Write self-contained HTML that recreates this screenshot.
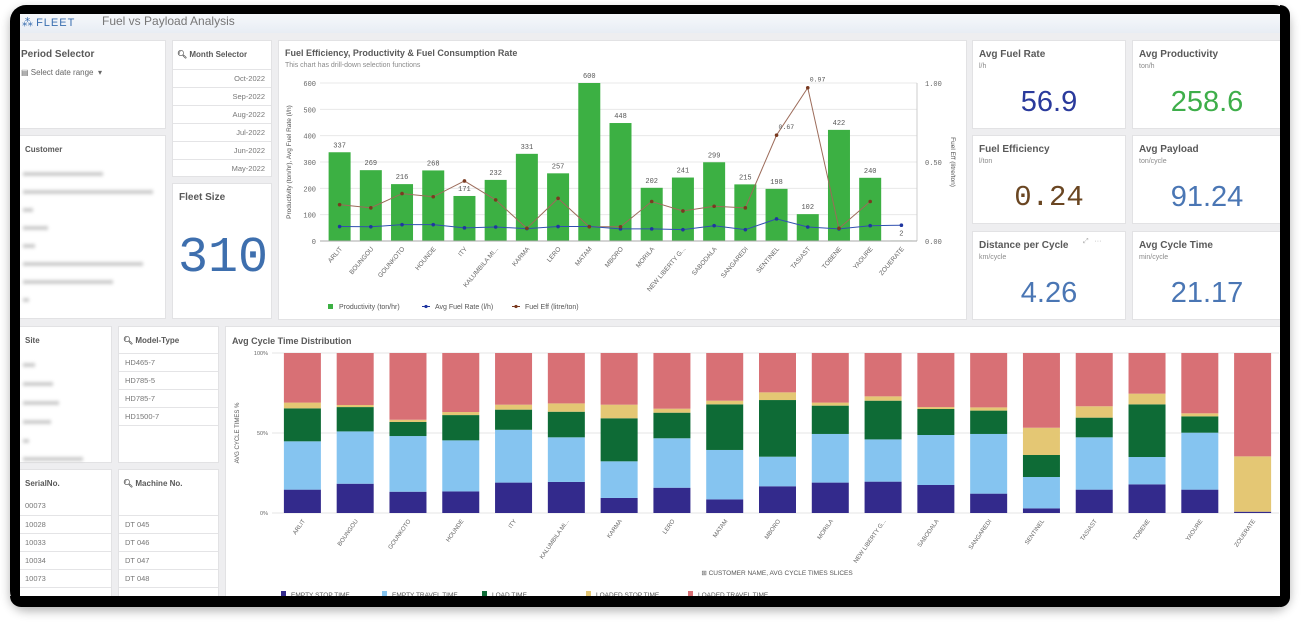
<!DOCTYPE html>
<html><head><meta charset="utf-8"><style>
*{margin:0;padding:0;box-sizing:border-box}
body{width:1307px;height:628px;background:#fff;font-family:"Liberation Sans",sans-serif;position:relative;overflow:hidden}
#bezel{position:absolute;left:10px;top:5px;width:1280px;height:602px;background:#000;border-radius:16px;box-shadow:0 4px 10px rgba(0,0,0,.3)}
#screen{position:absolute;left:20px;top:14px;width:1260px;height:582px;background:#eeeef0;overflow:hidden}
.p{position:absolute;background:#fff;border:1px solid #e2e2e4}
.t{position:absolute;font-weight:bold;font-size:10px;color:#595959}
.s{position:absolute;font-size:7px;color:#8a8a8a}
.row{position:absolute;left:0;right:0;height:18px;border-top:1px solid #e4e4e6;font-size:7.5px;color:#777;line-height:18px;padding:0 6px}
.kv{position:absolute;left:0;right:0;text-align:center;font-size:29px;font-family:"Liberation Mono",monospace}
.kv2{position:absolute;left:0;right:0;text-align:center;font-size:29px}
.blur{position:absolute;height:4px;background:#ccc;filter:blur(1.5px)}
</style></head><body>
<div id="bezel"></div>
<div id="screen">
 <div style="position:absolute;left:0;top:0;width:1260px;height:19px;background:linear-gradient(#f6f8fb,#e8edf4)">
  <div style="position:absolute;left:2px;top:2px;font-size:11px;color:#3a6fb0">⁂ <span style="letter-spacing:1px">FLEET</span></div>
  <div style="position:absolute;left:82px;top:0px;font-size:12px;color:#777">Fuel vs Payload Analysis</div>
 </div>
 <!-- left filters -->
 <div class="p" style="left:-2px;top:26px;width:148px;height:89px">
  <div class="t" style="left:2px;top:8px">Period Selector</div>
  <div class="s" style="left:2px;top:27px;font-size:8px;color:#666">▤ Select date range &nbsp;▾</div>
 </div>
 <div class="p" style="left:-2px;top:121px;width:148px;height:184px">
  <div class="t" style="left:6px;top:9px;font-size:8px">Customer</div>
  <div class="blur" style="left:4px;top:36px;width:80px"></div><div class="blur" style="left:4px;top:54px;width:130px"></div>
  <div class="blur" style="left:4px;top:72px;width:10px"></div><div class="blur" style="left:4px;top:90px;width:25px"></div>
  <div class="blur" style="left:4px;top:108px;width:12px"></div><div class="blur" style="left:4px;top:126px;width:120px"></div>
  <div class="blur" style="left:4px;top:144px;width:90px"></div><div class="blur" style="left:4px;top:162px;width:6px"></div>
 </div>
 <div class="p" style="left:152px;top:26px;width:100px;height:137px">
  <div class="t" style="left:4px;top:9px;font-size:8px">🔍︎ Month Selector</div>
  <div class="row" style="top:28px;text-align:right">Oct-2022</div><div class="row" style="top:46px;text-align:right">Sep-2022</div>
  <div class="row" style="top:64px;text-align:right">Aug-2022</div><div class="row" style="top:82px;text-align:right">Jul-2022</div>
  <div class="row" style="top:100px;text-align:right">Jun-2022</div><div class="row" style="top:118px;text-align:right">May-2022</div>
 </div>
 <div class="p" style="left:152px;top:169px;width:100px;height:136px">
  <div class="t" style="left:6px;top:8px">Fleet Size</div>
  <div style="position:absolute;left:0;top:46px;width:100px;text-align:center;font-size:50px;color:#3e6fae;font-family:'Liberation Mono',monospace">310</div>
 </div>
 <div class="p" style="left:-2px;top:312px;width:94px;height:137px">
  <div class="t" style="left:6px;top:9px;font-size:8px">Site</div>
  <div class="blur" style="left:4px;top:36px;width:12px"></div><div class="blur" style="left:4px;top:55px;width:30px"></div>
  <div class="blur" style="left:4px;top:74px;width:36px"></div><div class="blur" style="left:4px;top:93px;width:28px"></div>
  <div class="blur" style="left:4px;top:112px;width:6px"></div><div class="blur" style="left:4px;top:130px;width:60px"></div>
 </div>
 <div class="p" style="left:98px;top:312px;width:101px;height:137px">
  <div class="t" style="left:4px;top:9px;font-size:8px">🔍︎ Model-Type</div>
  <div class="row" style="top:26px">HD465-7</div><div class="row" style="top:44px">HD785-5</div>
  <div class="row" style="top:62px">HD785-7</div><div class="row" style="top:80px">HD1500-7</div><div class="row" style="top:98px"></div>
 </div>
 <div class="p" style="left:-2px;top:455px;width:94px;height:130px">
  <div class="t" style="left:6px;top:9px;font-size:8px">SerialNo.</div>
  <div class="row" style="top:27px;border:0">00073</div><div class="row" style="top:45px">10028</div>
  <div class="row" style="top:63px">10033</div><div class="row" style="top:81px">10034</div><div class="row" style="top:99px">10073</div><div class="row" style="top:117px"></div>
 </div>
 <div class="p" style="left:98px;top:455px;width:101px;height:130px">
  <div class="t" style="left:4px;top:9px;font-size:8px">🔍︎ Machine No.</div>
  <div class="row" style="top:45px">DT 045</div><div class="row" style="top:63px">DT 046</div>
  <div class="row" style="top:81px">DT 047</div><div class="row" style="top:99px">DT 048</div><div class="row" style="top:117px"></div>
 </div>
 <!-- top chart -->
 <div class="p" style="left:258px;top:26px;width:689px;height:280px">
  <div class="t" style="left:6px;top:7px;font-size:9px">Fuel Efficiency, Productivity &amp; Fuel Consumption Rate</div>
  <div class="s" style="left:6px;top:21px">This chart has drill-down selection functions</div>
 </div>
 <!-- KPIs -->
 <div class="p" style="left:952px;top:26px;width:154px;height:89px"><div class="t" style="left:6px;top:8px">Avg Fuel Rate</div><div class="s" style="left:6px;top:22px">l/h</div><div class="kv2" style="top:45px;color:#2a3a9c">56.9</div></div>
 <div class="p" style="left:1112px;top:26px;width:150px;height:89px"><div class="t" style="left:6px;top:8px">Avg Productivity</div><div class="s" style="left:6px;top:22px">ton/h</div><div class="kv2" style="top:45px;color:#3eae4a">258.6</div></div>
 <div class="p" style="left:952px;top:121px;width:154px;height:89px"><div class="t" style="left:6px;top:8px">Fuel Efficiency</div><div class="s" style="left:6px;top:22px">l/ton</div><div class="kv" style="top:45px;color:#6a4622">0.24</div></div>
 <div class="p" style="left:1112px;top:121px;width:150px;height:89px"><div class="t" style="left:6px;top:8px">Avg Payload</div><div class="s" style="left:6px;top:22px">ton/cycle</div><div class="kv2" style="top:45px;color:#4a76b4">91.24</div></div>
 <div class="p" style="left:952px;top:217px;width:154px;height:89px"><div class="t" style="left:6px;top:8px">Distance per Cycle</div><div class="s" style="left:6px;top:22px">km/cycle</div><div class="s" style="left:110px;top:6px;color:#aaa">⤢ &nbsp; ···</div><div class="kv2" style="top:45px;color:#4a76b4">4.26</div></div>
 <div class="p" style="left:1112px;top:217px;width:150px;height:89px"><div class="t" style="left:6px;top:8px">Avg Cycle Time</div><div class="s" style="left:6px;top:22px">min/cycle</div><div class="kv2" style="top:45px;color:#4a76b4">21.17</div></div>
 <!-- bottom chart panel -->
 <div class="p" style="left:205px;top:312px;width:1057px;height:280px">
  <div class="t" style="left:6px;top:9px;font-size:9px">Avg Cycle Time Distribution</div>
 </div>
</div>
<svg id="chart" width="1307" height="628" style="position:absolute;left:0;top:0;font-family:'Liberation Sans',sans-serif"></svg>
<script>
const cats=["ARLIT","BOUNGOU","GOUNKOTO","HOUNDE","ITY","KALUMBILA MI...","KARMA","LERO","MATAM","MBORO","MORILA","NEW LIBERTY G...","SABODALA","SANGAREDI","SENTINEL","TASIAST","TOBENE","YAOURE","ZOUERATE"];
const productivity=[337,269,216,268,171,232,331,257,600,448,202,241,299,215,198,102,422,240,2];
const fuelRate=[55,54,62,62,50,53,47,55,55,46,46,43,58,43,84,53,46,58,60];
const fuelEff=[0.23,0.21,0.30,0.28,0.38,0.26,0.08,0.27,0.09,0.09,0.25,0.19,0.22,0.21,0.67,0.97,0.08,0.25,null];
const leftTicks=[0,100,200,300,400,500,600];
const rightTicks=["0.00","0.50","1.00"];
const emptyStop=[0.146,0.183,0.133,0.135,0.19,0.194,0.094,0.158,0.085,0.167,0.19,0.196,0.175,0.121,0.029,0.146,0.179,0.146,0.008];
const emptyTravel=[0.302,0.327,0.348,0.319,0.33,0.279,0.229,0.309,0.309,0.185,0.304,0.264,0.3125,0.373,0.196,0.327,0.171,0.356,0.0];
const loadTime=[0.206,0.152,0.088,0.158,0.126,0.16,0.269,0.16,0.285,0.354,0.177,0.242,0.1625,0.146,0.1375,0.123,0.329,0.102,0.0];
const loadedStop=[0.036,0.013,0.014,0.019,0.031,0.052,0.085,0.025,0.023,0.048,0.019,0.027,0.012,0.02,0.1705,0.071,0.067,0.019,0.346];
const pctTicks=["0%","50%","100%"];
const svg=document.getElementById('chart');const NS='http://www.w3.org/2000/svg';
function mk(t,a,p){const e=document.createElementNS(NS,t);for(const k in a)e.setAttribute(k,a[k]);(p||svg).appendChild(e);return e}
// top chart axes
const X0=324,X1=917,Y0=241,Y1=83,band=(X1-X0)/cats.length;
const xc=i=>X0+band*(i+0.5);const yl=v=>Y0-(v/600)*(Y0-Y1);const yr=v=>Y0-v*(Y0-Y1);
const g1=mk('g',{});
leftTicks.forEach(v=>{const l=mk('line',{x1:X0-4,x2:X1,y1:yl(v),y2:yl(v),stroke:'#e8e8e8'},g1);
 const t=mk('text',{x:X0-8,y:yl(v)+3,'font-size':7,fill:'#666','text-anchor':'end','font-family':'Liberation Mono'},g1);t.textContent=v;});
rightTicks.forEach(v=>{const t=mk('text',{x:X1+8,y:yr(+v)+3,'font-size':7,fill:'#666','font-family':'Liberation Mono'},g1);t.textContent=v;});
mk('line',{x1:X1,x2:X1,y1:Y1,y2:Y0,stroke:'#ccc'},g1);
const ya=mk('text',{transform:`translate(291,162) rotate(-90)`,'font-size':6.5,fill:'#555','text-anchor':'middle'},g1);ya.textContent='Productivity (ton/hr), Avg Fuel Rate (l/h)';
const yb=mk('text',{transform:`translate(951,162) rotate(90)`,'font-size':6.5,fill:'#555','text-anchor':'middle'},g1);yb.textContent='Fuel Eff (litre/ton)';
productivity.forEach((v,i)=>{const r=mk('rect',{x:xc(i)-11,y:yl(v),width:22,height:Y0-yl(v),fill:'#3cb043'},g1);
 const t=mk('text',{x:xc(i),y:yl(v)-5,'font-size':7,fill:'#555','text-anchor':'middle','font-family':'Liberation Mono'},g1);t.textContent=v;});
mk('line',{x1:X0-4,x2:X1,y1:Y0,y2:Y0,stroke:'#aaa'},g1);
let pe='';fuelEff.forEach((v,i)=>{if(v!=null)pe+=(pe?'L':'M')+xc(i)+','+yr(v)});
const l2=mk('path',{d:pe,fill:'none',stroke:'#9c6b5a','stroke-width':1},g1);
let pf='';fuelRate.forEach((v,i)=>{pf+=(i?'L':'M')+xc(i)+','+yl(v)});
const l1=mk('path',{d:pf,fill:'none',stroke:'#3050b0','stroke-width':1},g1);
fuelRate.forEach((v,i)=>{const c=mk('circle',{cx:xc(i),cy:yl(v),r:1.8,fill:'#2036a0'},g1);});
fuelEff.forEach((v,i)=>{if(v==null)return;const c=mk('circle',{cx:xc(i),cy:yr(v),r:1.8,fill:'#7a3a20'},g1);
 if(v>0.5){const t=mk('text',{x:xc(i)+2,y:yr(v)-6,'font-size':6.5,fill:'#555','font-family':'Liberation Mono'},g1);t.textContent=v.toFixed(2);}});
cats.forEach((c,i)=>{const t=mk('text',{transform:`translate(${xc(i)+3},${Y0+8}) rotate(-50)`,'font-size':6.5,fill:'#666','text-anchor':'end'},g1);t.textContent=c;});
[['Productivity (ton/hr)','#3cb043',328,'rect'],['Avg Fuel Rate (l/h)','#2036a0',424,'dot'],['Fuel Eff (litre/ton)','#7a3a20',514,'dot']].forEach(([n,c,x,k])=>{
 const g=mk('g',{},g1);
 if(k=='rect')mk('rect',{x:x,y:304,width:5,height:5,fill:c},g);else{mk('line',{x1:x-2,x2:x+6,y1:306.5,y2:306.5,stroke:c},g);mk('circle',{cx:x+2,cy:306.5,r:1.6,fill:c},g);}
 const t=mk('text',{x:x+11,y:309,'font-size':7,fill:'#555'},g);t.textContent=n;});
// bottom chart
const B0=276,B1=1279,BY0=513,BY1=353,bb=(B1-B0)/cats.length;
const bx=i=>B0+bb*(i+0.5);const by=v=>BY0-v*(BY0-BY1);
const g2=mk('g',{});
pctTicks.forEach((p,i)=>{const v=i*0.5;const l=mk('line',{x1:B0-4,x2:B1,y1:by(v),y2:by(v),stroke:'#e4e4e4'},g2);
 const t=mk('text',{x:B0-8,y:by(v)+2,'font-size':5.5,fill:'#666','text-anchor':'end'},g2);t.textContent=p;});
const yt=mk('text',{transform:`translate(239,433) rotate(-90)`,'font-size':6,fill:'#555','text-anchor':'middle'},g2);yt.textContent='AVG CYCLE TIMES %';
const series=[emptyStop,emptyTravel,loadTime,loadedStop];const cols=['#332a8c','#85c4f0','#0e6b36','#e4c774','#d87075'];const sn=['empty-stop','empty-travel','load-time','loaded-stop','loaded-travel'];
cats.forEach((c,i)=>{let cum=0;series.forEach((s,k)=>{const r=mk('rect',{x:bx(i)-18.5,y:by(cum+s[i]),width:37,height:by(cum)-by(cum+s[i]),fill:cols[k]},g2);cum+=s[i];});
 const r=mk('rect',{x:bx(i)-18.5,y:by(1),width:37,height:by(cum)-by(1),fill:cols[4]},g2);
 const t=mk('text',{transform:`translate(${bx(i)+3},${BY0+8}) rotate(-55)`,'font-size':6,fill:'#666','text-anchor':'end'},g2);t.textContent=c;});
const xt=mk('text',{x:777,y:575,'font-size':6.5,fill:'#555','text-anchor':'middle'},g2);xt.textContent='⊞ CUSTOMER NAME, AVG CYCLE TIMES SLICES';
['EMPTY STOP TIME','EMPTY TRAVEL TIME','LOAD TIME','LOADED STOP TIME','LOADED TRAVEL TIME'].forEach((n,k)=>{const x=[281,382,482,586,688][k];
 const g=mk('g',{},g2);
 mk('rect',{x:x,y:591,width:5,height:5,fill:cols[k]},g);const t=mk('text',{x:x+10,y:597,'font-size':6.5,fill:'#555'},g);t.textContent=n;});
</script>
<div style="position:absolute;left:10px;top:596px;width:1280px;height:11px;background:#000;border-radius:0 0 16px 16px"></div>
<div style="position:absolute;left:1280px;top:5px;width:10px;height:602px;background:#000;border-radius:0 16px 16px 0"></div>
</body></html>
